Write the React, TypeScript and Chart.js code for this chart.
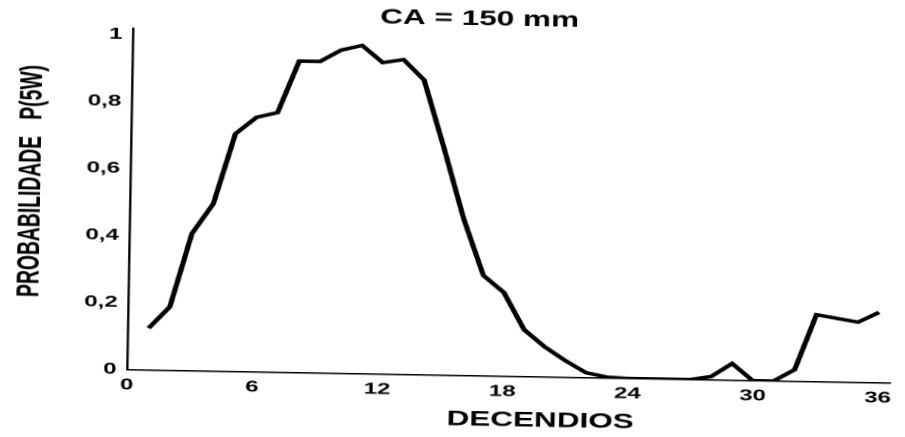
import { useEffect, useRef } from "react";
import { Chart, registerables } from "chart.js";

Chart.register(...registerables);

// Decendio index (1..36) and probability P(5W) for CA = 150 mm
const decendios = [
  1, 2, 3, 4, 5, 6, 7, 8, 9, 10, 11, 12, 13, 14, 15, 16, 17, 18,
  19, 20, 21, 22, 23, 24, 25, 26, 27, 28, 29, 30, 31, 32, 33, 34, 35, 36,
];
const probabilidade = [
  0.125, 0.19, 0.41, 0.5, 0.71, 0.76, 0.775, 0.93, 0.93, 0.965, 0.98, 0.93,
  0.94, 0.88, 0.68, 0.47, 0.3, 0.25, 0.14, 0.09, 0.05, 0.015, 0.003, 0,
  0, 0, 0, 0.01, 0.05, 0, 0, 0.035, 0.2, 0.19, 0.18, 0.21,
];

const xTicks = [0, 6, 12, 18, 24, 30, 36];
const xTickLabels = ["0", "6", "12", "18", "24", "30", "36"];
const yTicks = [0, 0.2, 0.4, 0.6, 0.8, 1];
const yTickLabels = ["0", "0,2", "0,4", "0,6", "0,8", "1"];

const chartTitle = "CA = 150 mm";
const xTitle = "DECENDIOS";
const yTitle = "PROBABILIDADE   P(5W)";

// canvas geometry; the figure is printed wide and sits slightly tilted
const CANVAS_W = 601;
const CANVAS_H = 437;
const STRETCH_X = 1.5;
const TILT_DEG = 1;
const ORIGIN = { x: 127, y: 370 };

const FONT = "'Liberation Sans', Arial, Helvetica, sans-serif";

const captions = {
  id: "captions",
  afterDraw(chart: Chart) {
    const { ctx, chartArea: a } = chart;
    ctx.save();
    ctx.fillStyle = "#000";
    ctx.textAlign = "center";
    ctx.textBaseline = "middle";
    ctx.font = `bold 21px ${FONT}`;
    ctx.fillText(chartTitle, a.left + 231, a.top - 15);
    ctx.fillText(xTitle, a.left + 276, a.bottom + 44);
    ctx.translate(a.left - 66, a.bottom - 187);
    ctx.rotate(-Math.PI / 2);
    ctx.fillText(yTitle, 0, 0, 232);
    ctx.restore();
  },
};

export default function App() {
  const canvasRef = useRef<HTMLCanvasElement | null>(null);

  useEffect(() => {
    const canvas = canvasRef.current;
    if (!canvas) return;
    const tickFont = { family: FONT, size: 16, weight: "bold" as const };

    const chart = new Chart(canvas, {
      type: "line",
      data: {
        datasets: [
          {
            data: decendios.map((d, i) => ({ x: d, y: probabilidade[i] })),
            borderColor: "#000",
            borderWidth: 3.5,
            pointRadius: 0,
            tension: 0,
            fill: false,
          },
        ],
      },
      options: {
        animation: false,
        responsive: false,
        devicePixelRatio: 2,
        layout: { padding: { top: 40, right: 12, left: 0, bottom: 0 } },
        plugins: {
          legend: { display: false },
          tooltip: { enabled: false },
          title: { display: false },
        },
        scales: {
          x: {
            type: "linear",
            min: 0,
            max: 36.6,
            afterBuildTicks: (s: any) => {
              s.ticks = xTicks.map((v) => ({ value: v }));
            },
            afterFit: (s: any) => {
              s.height = 55.3;
            },
            ticks: {
              callback: (_v: any, i: number) => xTickLabels[i],
              font: tickFont,
              color: "#000",
              padding: 6,
              maxRotation: 0,
              autoSkip: false,
            },
            grid: { display: false, drawTicks: false },
            border: { display: true, color: "#000", width: 1.5 },
          },
          y: {
            type: "linear",
            min: 0,
            max: 1.02,
            afterBuildTicks: (s: any) => {
              s.ticks = yTicks.map((v) => ({ value: v }));
            },
            afterFit: (s: any) => {
              s.width = 80;
            },
            ticks: {
              callback: (_v: any, i: number) => yTickLabels[i],
              font: tickFont,
              color: "#000",
              padding: 7,
              autoSkip: false,
            },
            grid: { display: false, drawTicks: false },
            border: { display: true, color: "#000", width: 1.5 },
          },
        },
      },
      plugins: [captions],
    });

    const a = chart.chartArea;
    canvas.style.left = `${ORIGIN.x - a.left}px`;
    canvas.style.top = `${ORIGIN.y - a.bottom}px`;
    canvas.style.transformOrigin = `${a.left}px ${a.bottom}px`;
    canvas.style.transform = `rotate(${TILT_DEG}deg) scaleX(${STRETCH_X})`;

    return () => chart.destroy();
  }, []);

  return (
    <div
      style={{
        position: "fixed",
        left: 0,
        top: 0,
        width: 905,
        height: 437,
        overflow: "hidden",
        background: "#fff",
      }}
    >
      <canvas
        ref={canvasRef}
        width={CANVAS_W}
        height={CANVAS_H}
        style={{ position: "absolute", width: CANVAS_W, height: CANVAS_H }}
      />
    </div>
  );
}
